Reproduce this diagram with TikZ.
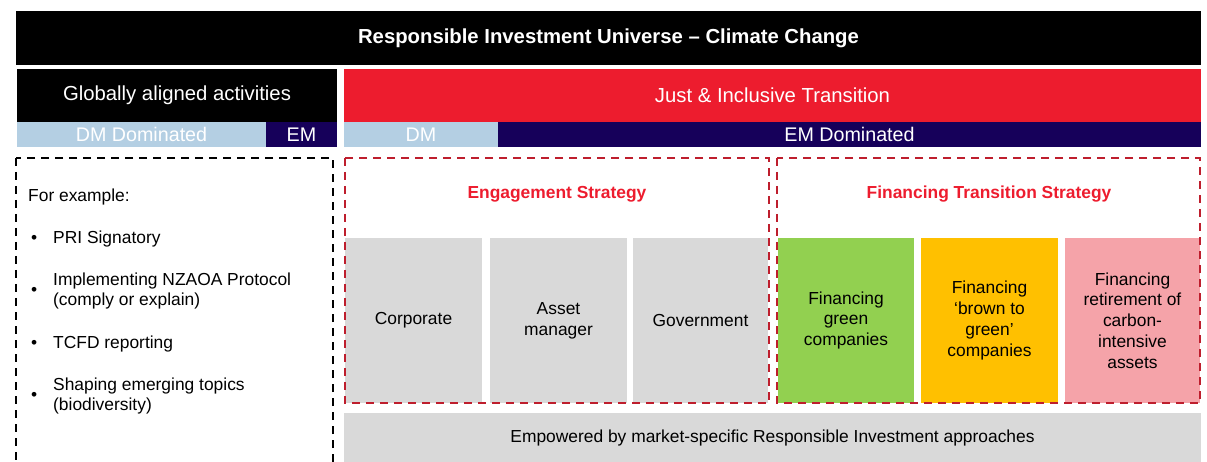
\documentclass[tikz,border=0pt]{standalone}
\usepackage{fontspec}
\setmainfont{Liberation Sans}
\usepackage{tikz}
\usetikzlibrary{positioning}

\definecolor{riRed}{HTML}{ED1C2E}
\definecolor{riDash}{HTML}{BE1E2D}
\definecolor{riBlue}{HTML}{B4CFE3}
\definecolor{riNavy}{HTML}{16005A}
\definecolor{riGrey}{HTML}{D9D9D9}
\definecolor{riGreen}{HTML}{92D050}
\definecolor{riYellow}{HTML}{FFC000}
\definecolor{riPink}{HTML}{F5A3A9}

\tikzset{
    bar/.style={inner sep=0pt, outer sep=0pt, text=white, font=\fontsize{20.3}{24}\selectfont},
    band/.style={inner sep=0pt, outer sep=0pt, text=white, font=\fontsize{19.7}{23}\selectfont,
        minimum height=25pt},
    tile/.style={inner sep=0pt, outer sep=0pt, minimum width=137pt, minimum height=165pt,
        align=center, font=\fontsize{17.4}{20.8}\selectfont},
    dashbox/.style={line width=1.8pt, dash pattern=on 8pt off 6pt},
    strat/.style={text=riRed, font=\bfseries\fontsize{17.4}{20}\selectfont},
    item/.style={anchor=west, align=left, inner sep=0pt, font=\fontsize{17.4}{20.8}\selectfont},
}

\begin{document}
\begin{tikzpicture}[x=1pt, y=-1pt]
    \useasboundingbox (0,0) rectangle (1207,462);

    % Kopfzeile
    \node[bar, fill=black, minimum width=1185pt, minimum height=54pt,
        font=\bfseries\fontsize{20.3}{24}\selectfont] (title) at (608.5,38)
        {Responsible Investment Universe -- Climate Change};

    % linke Spalte
    \node[bar, fill=black, minimum width=320pt, minimum height=53pt] (global) at (177,95.5)
        {Globally aligned activities};
    \node[band, fill=riBlue, minimum width=249pt] (dmLeft) at (141.5,134.5) {DM Dominated};
    \node[band, fill=riNavy, minimum width=71pt] (emLeft) at (301.5,134.5) {EM};

    % rechte Spalte
    \node[bar, fill=riRed, minimum width=857pt, minimum height=53pt] (just) at (772.5,95.5)
        {Just \& Inclusive Transition};
    \node[band, fill=riBlue, minimum width=154pt] (dmRight) at (421,134.5) {DM};
    \node[band, fill=riNavy, minimum width=703pt] (emRight) at (849.5,134.5) {EM Dominated};

    % Beispiele
    \node[item] (example) at (28,197) {For example:};
    \foreach \y/\txt [count=\i] in {239/{PRI Signatory},
            291/{Implementing NZAOA Protocol\\(comply or explain)},
            344/{TCFD reporting},
            396/{Shaping emerging topics\\(biodiversity)}} {
        \node[item] (bullet\i) at (31,\y) {\textbullet};
        \node[item] (point\i) at (53,\y) {\txt};
    }

    % Engagement
    \node[tile, fill=riGrey] (corporate) at (413.5,320.5) {Corporate};
    \node[tile, fill=riGrey] (asset) at (558.5,320.5) {Asset\\manager};
    \node[tile, fill=riGrey, minimum width=135pt] (government) at (700.5,320.5) {Government};

    % Finanzierung
    \node[tile, fill=riGreen, minimum width=136pt] (green) at (846,320.5)
        {Financing\\green\\companies};
    \node[tile, fill=riYellow] (brown) at (989.5,320.5)
        {Financing\\`brown to\\green'\\companies};
    \node[tile, fill=riPink, minimum width=135pt] (retire) at (1132.5,320.5)
        {Financing\\retirement of\\carbon-\\intensive\\assets};

    \node[strat] (engage) at (557,194) {Engagement Strategy};
    \node[strat] (finance) at (989,194) {Financing Transition Strategy};

    % gestrichelte Rahmen
    \draw[dashbox, black] (16,158) -- (16,462) (333,462) -- (333,158) -- (16,158);
    \draw[dashbox, riDash] (345,158) rectangle (769,403);
    \draw[dashbox, riDash] (777,158) rectangle (1200,403);

    % Fusszeile
    \node[tile, fill=riGrey, minimum width=857pt, minimum height=49pt] (empower) at (772.5,437.5)
        {Empowered by market-specific Responsible Investment approaches};
\end{tikzpicture}
\end{document}
